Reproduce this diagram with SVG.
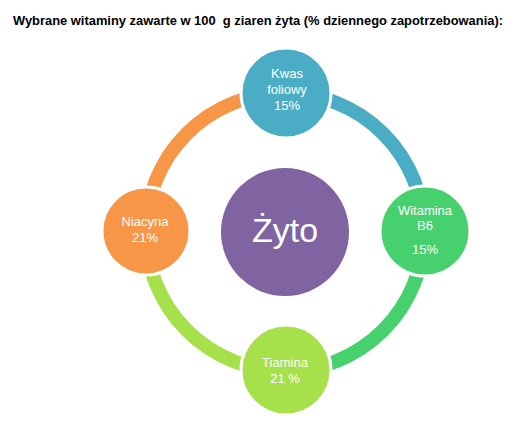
<svg xmlns="http://www.w3.org/2000/svg" width="515" height="430" viewBox="0 0 515 430">
<style>
.t{font-family:"Liberation Sans",Arial,sans-serif;fill:#ffffff;text-anchor:middle;font-size:13px}
.big{font-size:34px}
.arc{fill:none;stroke-width:14}
.n{stroke:#ffffff;stroke-width:3}
</style>
<rect width="515" height="430" fill="#ffffff"/>
<text x="258" y="25" font-family="Liberation Sans,Arial,sans-serif" font-size="12" font-weight="bold" fill="#000000" text-anchor="middle" textLength="490" lengthAdjust="spacingAndGlyphs" xml:space="preserve">Wybrane witaminy zawarte w 100  g ziaren żyta (% dziennego zapotrzebowania):</text>
<g id="connectors">
<path class="arc" stroke="#4BACC6" d="M285,93 A139,139 0 0 1 424,232"/>
<path class="arc" stroke="#46D06E" d="M424,232 A139,139 0 0 1 285,371"/>
<path class="arc" stroke="#A6E04A" d="M285,371 A139,139 0 0 1 146,232"/>
<path class="arc" stroke="#F79646" d="M146,232 A139,139 0 0 1 285,93"/>
</g>
<g id="center">
<circle cx="285" cy="232" r="64" fill="#8064A2"/>
<text class="t big" x="285" y="242">Żyto</text>
</g>
<g id="kwas-foliowy">
<circle class="n" cx="286" cy="93" r="45" fill="#4BACC6"/>
<text class="t" x="287" y="78">Kwas</text>
<text class="t" x="287" y="94">foliowy</text>
<text class="t" x="287" y="109.5">15%</text>
</g>
<g id="witamina-b6">
<circle class="n" cx="425" cy="231" r="45" fill="#46D06E"/>
<text class="t" x="425" y="215">Witamina</text>
<text class="t" x="425" y="230">B6</text>
<text class="t" x="425" y="254">15%</text>
</g>
<g id="tiamina">
<circle class="n" cx="286" cy="370" r="45" fill="#A6E04A"/>
<text class="t" x="285" y="366.5">Tiamina</text>
<text class="t" x="285" y="382.5">21 %</text>
</g>
<g id="niacyna">
<circle class="n" cx="146" cy="231" r="44" fill="#F79646"/>
<text class="t" x="145" y="226">Niacyna</text>
<text class="t" x="145" y="242">21%</text>
</g>
</svg>
